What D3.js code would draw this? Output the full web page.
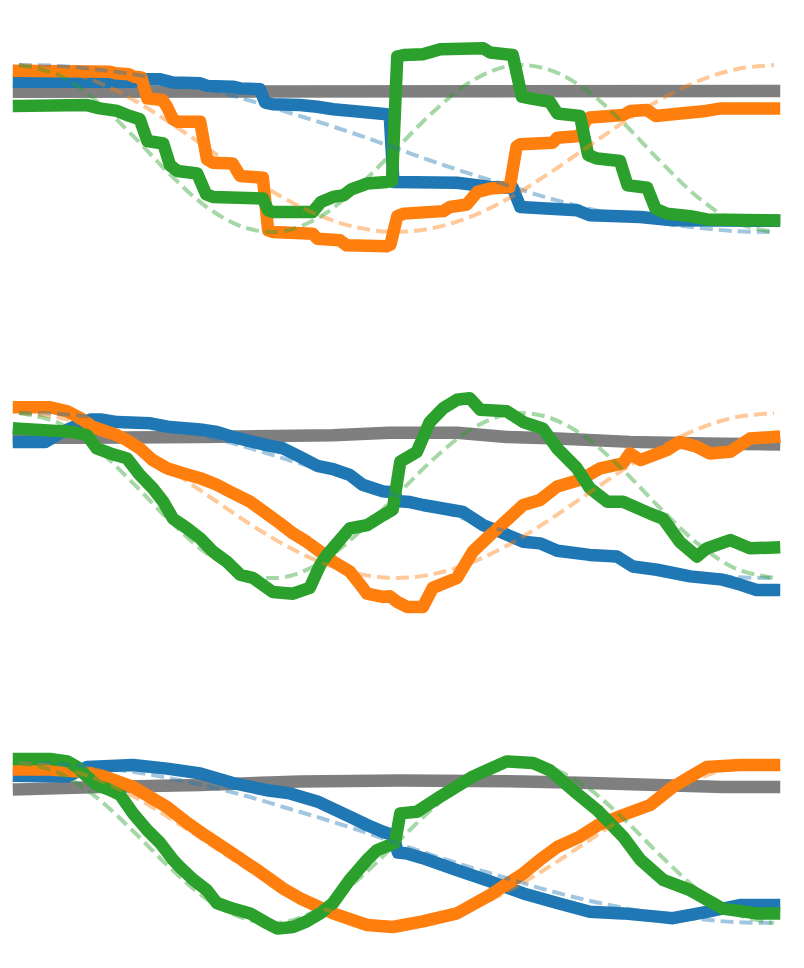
<!DOCTYPE html>
<html>
<head>
<meta charset="utf-8">
<script src="https://cdn.jsdelivr.net/npm/d3@7"></script>
<style>
  body { margin: 0; background: #fff; }
</style>
</head>
<body>
<div id="chart-area"></div>
<script>
const WIDTH = 804;
const HEIGHT = 968;

// reference curves (dashed), sampled every 5% of the width
const refX = [0, 5, 10, 15, 20, 25, 30, 35, 40, 45, 50, 55, 60, 65, 70, 75, 80, 85, 90, 95, 100];
const refBlue = [1.00, 0.99, 0.95, 0.89, 0.81, 0.71, 0.59, 0.45, 0.31, 0.16, 0.00, -0.16, -0.31, -0.45, -0.59, -0.71, -0.81, -0.89, -0.95, -0.99, -1.00];
const refOrange = [1.00, 0.95, 0.81, 0.59, 0.31, 0.00, -0.31, -0.59, -0.81, -0.95, -1.00, -0.95, -0.81, -0.59, -0.31, 0.00, 0.31, 0.59, 0.81, 0.95, 1.00];
const refGreen = [1.00, 0.89, 0.59, 0.16, -0.31, -0.71, -0.95, -0.99, -0.81, -0.45, 0.00, 0.45, 0.81, 0.99, 0.95, 0.71, 0.31, -0.16, -0.59, -0.89, -1.00];

// panel 1 (stepped)
const p1Gray = [[0, 0.68], [100, 0.69]];
const p1Blue = [[0, 0.80], [15.1, 0.80], [16.4, 0.83], [18.7, 0.83], [20.4, 0.79], [24, 0.78], [24.9, 0.75], [28.3, 0.74], [29.3, 0.72], [31.9, 0.71], [32.6, 0.55], [33.6, 0.53], [37.2, 0.52], [39.5, 0.50], [41.6, 0.47], [45.2, 0.44], [48.7, 0.41], [49.1, 0.40], [49.6, -0.40], [58, -0.41], [62.4, -0.46], [65.4, -0.47], [66.4, -0.70], [73.9, -0.74], [75.6, -0.80], [82.3, -0.82], [86.6, -0.86], [100, -0.865]];
const p1Orange = [[0, 0.93], [12, 0.92], [12.8, 0.90], [14.5, 0.89], [15.2, 0.86], [16.2, 0.85], [17, 0.60], [19, 0.58], [19.6, 0.50], [20.4, 0.35], [21, 0.32], [24, 0.32], [24.9, -0.13], [25.7, -0.17], [28.3, -0.18], [29.3, -0.33], [32.3, -0.35], [33, -0.98], [33.6, -1.0], [38.9, -1.02], [39.5, -1.08], [42.5, -1.10], [43.4, -1.16], [48.7, -1.17], [49.2, -1.15], [50.1, -0.81], [51, -0.78], [56.2, -0.75], [57.1, -0.70], [59.3, -0.67], [60.7, -0.52], [62.4, -0.48], [65, -0.46], [65.9, 0.02], [66.4, 0.05], [70.7, 0.07], [71.3, 0.13], [74.3, 0.15], [75, 0.33], [75.6, 0.37], [77, 0.38], [80, 0.40], [81, 0.45], [83.2, 0.46], [84.3, 0.39], [86.6, 0.41], [91, 0.45], [93, 0.48], [100, 0.48]];
const p1Green = [[0, 0.51], [9, 0.52], [10.7, 0.48], [13, 0.45], [14.3, 0.40], [16, 0.35], [17, 0.09], [19.1, 0.06], [20, -0.20], [21, -0.27], [23.6, -0.30], [24.8, -0.55], [25.7, -0.58], [32.3, -0.60], [33, -0.74], [33.6, -0.76], [38.9, -0.76], [40, -0.64], [41.6, -0.58], [43, -0.56], [44, -0.49], [45.2, -0.45], [46.1, -0.42], [48.7, -0.40], [49.4, -0.39], [50.1, 1.10], [51, 1.12], [53.5, 1.13], [55.8, 1.19], [61.5, 1.20], [62.4, 1.15], [65.4, 1.12], [66.6, 0.62], [67.7, 0.60], [70.3, 0.56], [71.3, 0.42], [74.3, 0.39], [75.4, -0.08], [76.6, -0.12], [79.6, -0.15], [80.6, -0.44], [83.2, -0.47], [84.3, -0.72], [85.8, -0.78], [88.9, -0.81], [91.1, -0.85], [100, -0.86]];

// panel 2
const p2Gray = [[0, 0.70], [8.5, 0.70], [24, 0.71], [41.6, 0.73], [49, 0.76], [58, 0.76], [64.6, 0.71], [71.3, 0.69], [80.9, 0.65], [91, 0.63], [100, 0.62]];
const p2Blue = [[0, 0.65], [3.5, 0.65], [5.5, 0.76], [9.5, 0.92], [11, 0.92], [13, 0.89], [17.4, 0.875], [20, 0.83], [24, 0.80], [26.2, 0.77], [28.3, 0.71], [32.8, 0.61], [35, 0.57], [37.2, 0.47], [39.5, 0.36], [41.6, 0.32], [43.8, 0.25], [45.5, 0.13], [48.2, 0.05], [49.5, 0.04], [50.3, -0.07], [51.8, -0.08], [53.5, -0.115], [58.8, -0.20], [61.5, -0.36], [63.7, -0.44], [66.8, -0.56], [69, -0.58], [71.3, -0.67], [75.6, -0.72], [79.2, -0.74], [81.3, -0.86], [84.5, -0.90], [88.9, -0.98], [93.2, -1.02], [95.5, -1.08], [97.7, -1.145], [100, -1.145]];
const p2Orange = [[0, 1.07], [4.1, 1.07], [6.4, 1.02], [8.1, 0.94], [9.8, 0.83], [13, 0.73], [14.3, 0.67], [16, 0.57], [17.7, 0.43], [19.6, 0.33], [21.7, 0.27], [24, 0.21], [26.2, 0.13], [28.3, 0.03], [30.6, -0.075], [32.8, -0.22], [34.6, -0.34], [36.3, -0.46], [38.1, -0.56], [39.9, -0.68], [41.6, -0.80], [43.8, -0.92], [45.2, -1.08], [46.1, -1.19], [48.2, -1.23], [49.1, -1.22], [50.1, -1.29], [51.4, -1.35], [53.5, -1.35], [54.8, -1.12], [58, -1.0], [60.1, -0.68], [62.4, -0.48], [64.1, -0.34], [66.8, -0.115], [69, -0.055], [71.3, 0.11], [74.3, 0.19], [77, 0.33], [80, 0.39], [80.9, 0.51], [82.3, 0.43], [85.8, 0.55], [87.5, 0.65], [89.8, 0.59], [91.5, 0.51], [94.2, 0.53], [96.8, 0.69], [100, 0.71]];
const p2Green = [[0, 0.81], [7.2, 0.77], [9, 0.73], [10.3, 0.57], [12.1, 0.51], [14.3, 0.45], [16, 0.25], [17.7, 0.09], [19.1, -0.075], [20.4, -0.28], [22.3, -0.40], [24, -0.52], [25.7, -0.68], [27.5, -0.80], [29.3, -0.96], [31, -1.0], [33.6, -1.17], [36.3, -1.19], [38.5, -1.12], [39.9, -0.84], [40.8, -0.72], [43.8, -0.40], [46.1, -0.36], [48.2, -0.24], [49.5, -0.17], [50.5, 0.41], [52.7, 0.53], [54.4, 0.89], [56.2, 1.06], [58, 1.16], [59.7, 1.18], [61.1, 1.04], [64.6, 1.02], [66.8, 0.89], [69.4, 0.81], [71.3, 0.57], [73.9, 0.33], [75.6, 0.09], [77.9, -0.075], [80, -0.075], [83.6, -0.22], [85.3, -0.28], [87.5, -0.56], [89.8, -0.74], [91.1, -0.64], [94.2, -0.54], [96.8, -0.64], [100, -0.63]];

// panel 3
const p3Gray = [[0, 0.67], [10.7, 0.70], [24, 0.725], [37.2, 0.77], [50.5, 0.78], [66.8, 0.77], [75.6, 0.75], [84.5, 0.725], [93.2, 0.70], [100, 0.70]];
const p3Blue = [[0, 0.84], [6.4, 0.83], [9, 0.95], [15.1, 0.975], [19.6, 0.93], [24, 0.87], [28.3, 0.75], [32.8, 0.66], [35.9, 0.62], [39.5, 0.52], [43.8, 0.33], [46.1, 0.225], [48.2, 0.14], [49.5, 0.10], [50.2, -0.12], [51.4, -0.13], [53.5, -0.19], [58, -0.34], [62.4, -0.48], [66.8, -0.63], [71.3, -0.75], [75.6, -0.86], [80, -0.88], [84.5, -0.92], [86.6, -0.94], [91.1, -0.86], [95.5, -0.775], [100, -0.775]];
const p3Orange = [[0, 0.92], [4.1, 0.92], [8.5, 0.89], [10.7, 0.85], [15.1, 0.70], [19.6, 0.45], [22.3, 0.25], [24.9, 0.08], [28.3, -0.13], [31.9, -0.36], [35, -0.57], [37.2, -0.69], [41.6, -0.88], [46.1, -1.025], [49.5, -1.05], [53.5, -0.98], [58, -0.88], [62.4, -0.65], [66.8, -0.38], [69, -0.21], [71.3, -0.05], [74.3, 0.08], [76.6, 0.22], [80, 0.35], [83.6, 0.475], [86.6, 0.70], [88.9, 0.83], [91.1, 0.95], [95.5, 0.975], [100, 0.975]];
const p3Green = [[0, 1.05], [4.1, 1.05], [6.4, 1.02], [7.7, 0.95], [9, 0.83], [10.3, 0.725], [12.1, 0.66], [13.4, 0.60], [15.1, 0.37], [17, 0.16], [18.7, 0.0], [20.4, -0.21], [21.3, -0.30], [23.1, -0.46], [24.9, -0.59], [26.2, -0.75], [28.3, -0.82], [30.6, -0.88], [32.8, -1.0], [34.2, -1.07], [36.3, -1.05], [38.1, -0.98], [39.9, -0.88], [41.6, -0.75], [43.8, -0.46], [46.1, -0.21], [47.4, -0.09], [49.1, -0.025], [49.8, 0.0], [50.5, 0.37], [52.7, 0.39], [55.8, 0.58], [60.1, 0.83], [64.6, 1.02], [68.1, 1.0], [70.3, 0.91], [73.9, 0.62], [76.6, 0.41], [80, 0.08], [82.3, -0.21], [85.3, -0.46], [88.9, -0.59], [93.2, -0.82], [97.7, -0.88], [100, -0.88]];

const colors = {gray: "#7f7f7f", blue: "#1f77b4", orange: "#ff7f0e", green: "#2ca02c"};

const svg = d3.select("#chart-area").append("svg")
  .attr("width", WIDTH)
  .attr("height", HEIGHT);

// shared x scale: 0..100 across the axes width
const x = d3.scaleLinear().domain([0, 100]).range([19, 774]);

// pixel rows where +1 / -1 fall in each panel
const panels = [
  {top: 65, bottom: 232, lines: [p1Gray, p1Blue, p1Orange, p1Green]},
  {top: 413, bottom: 578, lines: [p2Gray, p2Blue, p2Orange, p2Green]},
  {top: 763, bottom: 923, lines: [p3Gray, p3Blue, p3Orange, p3Green]}
];

const lineColors = [colors.gray, colors.blue, colors.orange, colors.green];
const refs = [[refBlue, colors.blue], [refOrange, colors.orange], [refGreen, colors.green]];

panels.forEach(p => {
  const y = d3.scaleLinear().domain([1, -1]).range([p.top, p.bottom]);
  const g = svg.append("g");

  const thick = d3.line()
    .x(d => x(d[0]))
    .y(d => y(d[1]));

  p.lines.forEach((data, i) => {
    g.append("path")
      .datum(data)
      .attr("d", thick)
      .attr("fill", "none")
      .attr("stroke", lineColors[i])
      .attr("stroke-width", 12.5)
      .attr("stroke-linejoin", "round")
      .attr("stroke-linecap", "square");
  });

  // dashed references on top
  const dashed = d3.line()
    .x((d, i) => x(refX[i]))
    .y(d => y(d))
    .curve(d3.curveCatmullRom);

  refs.forEach(([vals, c]) => {
    g.append("path")
      .datum(vals)
      .attr("d", dashed)
      .attr("fill", "none")
      .attr("stroke", c)
      .attr("stroke-opacity", 0.42)
      .attr("stroke-width", 4)
      .attr("stroke-dasharray", "13 6");
  });
});
</script>
</body>
</html>
